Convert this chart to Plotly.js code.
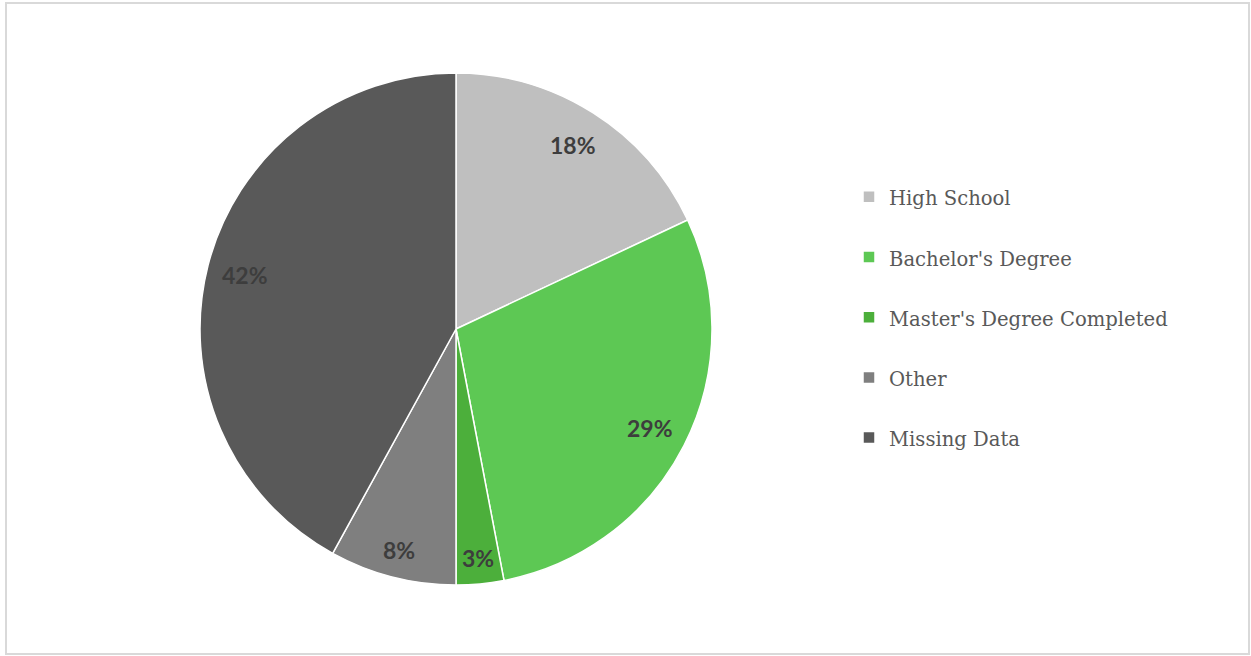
<!DOCTYPE html>
<html><head><meta charset="utf-8">
<script src="https://cdn.plot.ly/plotly-3.0.1.min.js"></script>
<style>html,body{margin:0;padding:0;background:#fff}#chart{width:1251px;height:656px}</style>
</head><body><div id="chart"></div>
<script>
const labels = ["High School", "Bachelor's Degree", "Master's Degree Completed", "Other", "Missing Data"];
const values = [18, 29, 3, 8, 42];
const colors = ["#bfbfbf", "#5dc854", "#4caf3b", "#7f7f7f", "#595959"];

const W = 1251, H = 656;
const dom = {x: [200/W, 712/W], y: [(H-585)/H, (H-73)/H]};

// percent labels placed along each slice's mid-angle (computed from the values)
const total = values.reduce((a, b) => a + b, 0);
const cx = (dom.x[0] + dom.x[1]) / 2 * W, cy = (1 - (dom.y[0] + dom.y[1]) / 2) * H;
const R = (dom.x[1] - dom.x[0]) * W / 2;
const radFrac = [0.85, 0.85, 0.90, 0.89, 0.85];
let cum = 0;
const annotations = values.map((v, i) => {
  const mid = (cum + v / 2) / total * 2 * Math.PI; cum += v;
  const px = cx + radFrac[i] * R * Math.sin(mid), py = cy - radFrac[i] * R * Math.cos(mid);
  return {x: px / W, y: 1 - py / H, xref: 'paper', yref: 'paper', showarrow: false,
    xanchor: 'center', yanchor: 'middle',
    text: Math.round(v / total * 100) + '%',
    font: {family: 'Lato, sans-serif', size: 23, color: '#3d3d3d', weight: 'bold'}};
});

const trace = {
  type: 'pie', values: values,
  labels: labels.map(l => '<span style="font-size:19.6px">' + l + '</span><br> '),
  marker: {colors: colors, line: {color: '#ffffff', width: 1.5}},
  sort: false, direction: 'clockwise', rotation: 0,
  textinfo: 'none', hoverinfo: 'none', domain: dom
};

const layout = {
  width: W, height: H, margin: {l: 0, r: 0, t: 0, b: 0},
  paper_bgcolor: '#fff', plot_bgcolor: '#fff',
  showlegend: true,
  legend: {x: 849/W, xanchor: 'left', y: 1 - 176/H, yanchor: 'top', valign: 'top',
    font: {family: 'DejaVu Serif, serif', size: 22, color: '#595959'}, bgcolor: 'rgba(0,0,0,0)'},
  annotations: annotations,
  shapes: [{type: 'rect', xref: 'paper', yref: 'paper', x0: 6/W, x1: 1249/W, y0: 1 - 654/H, y1: 1 - 3/H,
    line: {color: '#d9d9d9', width: 2}}]
};
Plotly.newPlot('chart', [trace], layout, {displayModeBar: false});
</script></body></html>
